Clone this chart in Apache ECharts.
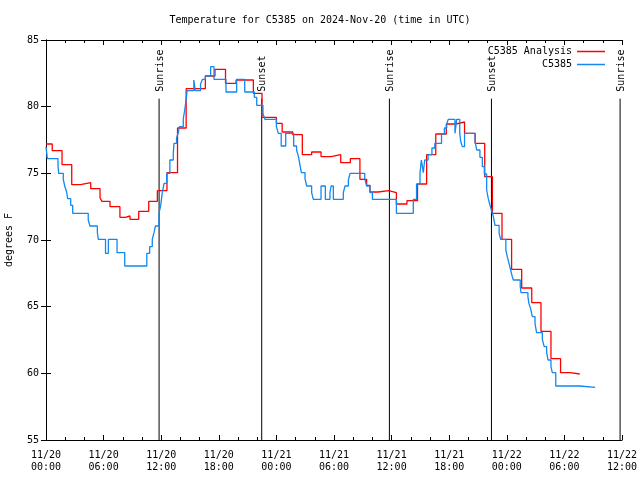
<!DOCTYPE html>
<html><head><meta charset="utf-8">
<script src="https://cdn.jsdelivr.net/npm/echarts@6/dist/echarts.min.js"></script>
<style>html,body{margin:0;padding:0;background:#fff}#c{width:640px;height:480px}</style>
</head><body><div id="c"></div>
<script>
const chartTitle = 'Temperature for C5385 on 2024-Nov-20 (time in UTC)';
const seriesNames = ['C5385 Analysis', 'C5385'];
const yAxisName = 'degrees F';
// hours since 2024-11-20 00:00 UTC
const analysisHours = [0, 0.65, 1.67, 2.68, 3.6, 4.66, 5.63, 5.83, 6.67, 7.7, 8.26, 8.75, 9.66, 10.7, 11.6, 12.6, 13.7, 14.6, 16.6, 17.6, 18.7, 19.8, 21.6, 22.5, 24.0, 24.6, 25.7, 26.7, 27.67, 28.65, 29.7, 30.7, 31.7, 32.7, 33.4, 33.75, 34.6, 35.7, 36.5, 37.6, 38.7, 39.65, 40.6, 41.7, 42.7, 43.6, 44.7, 45.7, 46.5, 47.5, 48.5, 49.55, 50.6, 51.56, 52.6, 53.6, 54.6, 55.6];
const analysisTemps = [77.2, 76.7, 75.65, 74.15, 74.3, 73.85, 73.15, 72.9, 72.5, 71.7, 71.8, 71.55, 72.15, 72.9, 73.7, 75.05, 78.4, 81.35, 82.3, 82.8, 81.75, 82.0, 81.0, 79.2, 78.75, 78.1, 77.9, 76.4, 76.6, 76.25, 76.4, 75.8, 76.1, 74.55, 74.1, 73.6, 73.7, 73.55, 72.7, 72.95, 74.2, 76.4, 77.95, 78.7, 78.85, 78.0, 77.25, 74.75, 72.0, 70.05, 67.8, 66.4, 65.3, 63.15, 61.1, 60.05, 59.95, 59.95];
const obsHours = [0, 0.14, 1.25, 1.32, 1.8, 1.95, 2.15, 2.25, 2.57, 2.78, 4.4, 4.58, 5.35, 5.45, 6.2, 6.5, 7.4, 8.2, 10.5, 10.8, 11.07, 11.25, 11.4, 11.77, 11.95, 12.1, 12.3, 12.57, 12.9, 13.26, 13.33, 13.6, 13.8, 13.9, 14.3, 14.45, 14.6, 14.7, 15.4, 15.55, 16.1, 16.3, 16.6, 17.15, 17.5, 18.75, 19.86, 20.7, 21.7, 21.95, 22.6, 22.8, 24.0, 24.2, 24.5, 24.97, 25.8, 26.1, 26.3, 26.46, 26.6, 26.98, 27.15, 27.67, 27.85, 28.65, 29.1, 29.58, 29.7, 29.93, 30.97, 31.15, 31.5, 31.67, 33.2, 33.4, 33.75, 34.0, 36.5, 38.26, 38.6, 38.96, 39.1, 39.3, 39.45, 39.8, 40.2, 40.5, 41.2, 41.5, 41.74, 41.9, 42.6, 42.78, 43.1, 43.2, 43.37, 43.6, 44.7, 44.86, 45.2, 45.45, 45.66, 45.9, 46.07, 46.25, 46.4, 46.6, 46.77, 47.2, 47.36, 47.9, 48.05, 48.23, 48.4, 48.57, 48.68, 49.4, 49.48, 50.2, 50.3, 50.5, 50.66, 50.94, 51.1, 51.7, 51.9, 52.15, 52.3, 52.6, 52.74, 53.1, 55.6, 57.2];
const obsTemps = [77.0, 76.1, 75.6, 75.0, 74.55, 74.05, 73.6, 73.1, 72.6, 72.0, 71.5, 71.05, 70.55, 70.05, 69.0, 70.05, 69.05, 68.05, 69.0, 69.5, 70.05, 70.55, 71.05, 72.0, 72.6, 73.5, 74.25, 75.0, 76.0, 76.5, 77.25, 77.65, 78.1, 78.5, 79.1, 79.75, 80.55, 81.2, 82.0, 81.2, 81.7, 82.05, 82.3, 83.0, 82.05, 81.1, 82.05, 81.1, 80.7, 80.1, 79.5, 79.05, 78.5, 78.0, 77.05, 78.0, 77.05, 76.75, 76.25, 75.6, 75.05, 74.6, 74.05, 73.55, 73.05, 74.05, 73.05, 73.55, 74.05, 73.05, 73.55, 74.05, 74.5, 75.0, 74.6, 74.05, 73.55, 73.05, 72.0, 73.05, 74.2, 75.05, 76.0, 75.05, 76.0, 76.4, 76.9, 77.25, 77.95, 78.4, 78.7, 79.05, 78.0, 79.05, 78.0, 77.4, 77.0, 78.0, 77.4, 76.75, 76.2, 75.5, 74.95, 73.75, 73.1, 72.6, 72.25, 71.75, 71.1, 70.5, 70.05, 69.25, 68.75, 68.25, 67.75, 67.25, 67.0, 66.5, 66.05, 65.75, 65.25, 64.8, 64.25, 63.75, 63.05, 62.55, 62.0, 61.55, 61.0, 60.5, 60.05, 59.05, 58.95, 58.95];
const sunHours = [11.78, 22.47, 35.77, 46.4, 59.8];
const sunLabels = ['Sunrise', 'Sunset', 'Sunrise', 'Sunset', 'Sunrise'];
const xTickLabels = ['11/20\n00:00', '11/20\n06:00', '11/20\n12:00', '11/20\n18:00', '11/21\n00:00', '11/21\n06:00', '11/21\n12:00', '11/21\n18:00', '11/22\n00:00', '11/22\n06:00', '11/22\n12:00'];

const FONT = '"DejaVu Sans Mono", "Liberation Mono", monospace';
const pair = (hs, vs) => hs.map((h, i) => [h, vs[i]]);
const axisLine = { show: true, lineStyle: { color: '#000', width: 1 } };
const tick = { show: true, inside: true, length: 5, lineStyle: { color: '#000' } };

const chart = echarts.init(document.getElementById('c'), null, { renderer: 'canvas' });
chart.setOption({
  animation: false,
  backgroundColor: '#fff',
  title: { text: chartTitle, left: 'center', top: 10, textStyle: { fontFamily: FONT, fontSize: 10, fontWeight: 'normal', color: '#000' } },
  legend: {
    data: seriesNames, orient: 'vertical', right: 30, top: 41, align: 'right',
    icon: 'rect', itemWidth: 28, itemHeight: 1.5, itemGap: 2,
    textStyle: { fontFamily: FONT, fontSize: 10, color: '#000', lineHeight: 11 }
  },
  grid: { left: 46, right: 18, top: 40, bottom: 40, containLabel: false, outerBoundsMode: 'none' },
  xAxis: [
    { type: 'value', min: 0, max: 60, interval: 6, position: 'bottom',
      axisLine, axisTick: tick, minorTick: { show: true, splitNumber: 3, length: 3, lineStyle: { color: '#000' } },
      splitLine: { show: false }, minorSplitLine: { show: false },
      axisLabel: { fontFamily: FONT, fontSize: 10, color: '#000', margin: 9, lineHeight: 12, hideOverlap: false,
        formatter: v => xTickLabels[Math.round(v / 6)] } },
    { type: 'value', min: 0, max: 60, interval: 6, position: 'top',
      axisLine, axisTick: tick, minorTick: { show: true, splitNumber: 3, length: 3, lineStyle: { color: '#000' } },
      splitLine: { show: false }, axisLabel: { show: false } }
  ],
  yAxis: [
    { type: 'value', min: 55, max: 85, interval: 5, position: 'left',
      axisLine, axisTick: tick, splitLine: { show: false },
      name: yAxisName, nameLocation: 'middle', nameGap: 32, nameRotate: 90,
      nameTextStyle: { fontFamily: FONT, fontSize: 10, color: '#000' },
      axisLabel: { fontFamily: FONT, fontSize: 10, color: '#000', margin: 7 } },
    { type: 'value', min: 55, max: 85, interval: 5, position: 'right',
      axisLine, axisTick: tick, splitLine: { show: false }, axisLabel: { show: false } }
  ],
  series: [
    { type: 'custom', name: 'sun', silent: true, clip: false, z: 1,
      data: sunHours.map(h => [h, 55]),
      renderItem: (params, api) => {
        const h = api.value(0);
        const b = api.coord([h, 55]);
        const t = api.coord([h, 80.6]);
        return { type: 'group', children: [
          { type: 'line', shape: { x1: b[0], y1: b[1], x2: t[0], y2: t[1] }, style: { stroke: '#000', lineWidth: 1 } },
          { type: 'text', x: t[0] + 1, y: t[1] - 7, rotation: Math.PI / 2,
            style: { text: sunLabels[params.dataIndex], fill: '#000', font: '10px ' + FONT, align: 'left', verticalAlign: 'middle' } }
        ] };
      } },
    { type: 'line', name: seriesNames[0], step: 'end', showSymbol: false, symbol: 'none', z: 3,
      color: '#ff0000', lineStyle: { color: '#ff0000', width: 1.3 }, data: pair(analysisHours, analysisTemps) },
    { type: 'line', name: seriesNames[1], step: 'end', showSymbol: false, symbol: 'none', z: 4,
      color: '#1188f2', lineStyle: { color: '#1188f2', width: 1.3 }, data: pair(obsHours, obsTemps) }
  ]
});
</script></body></html>
